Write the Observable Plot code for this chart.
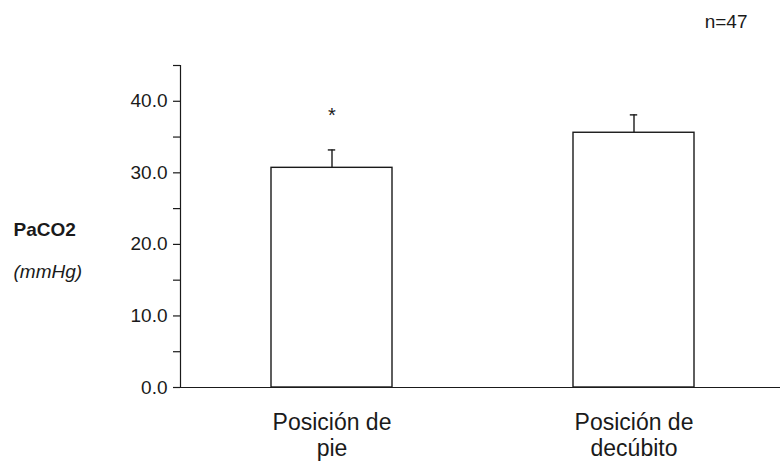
<!DOCTYPE html>
<html>
<head>
<meta charset="utf-8">
<script src="https://cdn.jsdelivr.net/npm/d3@7"></script>
<script src="https://cdn.jsdelivr.net/npm/@observablehq/plot@0.6"></script>
<style>
  html, body { margin: 0; padding: 0; background: #fff; }
  #chart svg { display: block; }
</style>
</head>
<body>
<div id="chart"></div>
<script>
// ---- data ----
const categories = ["Posición de\npie", "Posición de\ndecúbito"];
const means = [30.7, 35.6];
const errors = [2.5, 2.5];
const marks = ["*", ""];
const yTickValues = [0, 5, 10, 15, 20, 25, 30, 35, 40, 45];
const yTickLabels = ["0.0", "", "10.0", "", "20.0", "", "30.0", "", "40.0", ""];
const yTitle = "PaCO2";
const yUnit = "(mmHg)";
const sampleNote = "n=47";

const rows = categories.map((c, i) => ({cat: c, mean: means[i], err: errors[i], top: means[i] + errors[i], mark: marks[i]}));
const labelOf = new Map(yTickValues.map((v, i) => [v, yTickLabels[i]]));

const FONT = "'Liberation Sans', Arial, Helvetica, sans-serif";
const INK = "#1a1a1a";

const chart = Plot.plot({
  width: 780,
  height: 466,
  marginLeft: 180,
  marginRight: 0,
  marginTop: 65,
  marginBottom: 79,
  style: {fontFamily: FONT, color: INK, background: "#fff", overflow: "visible"},
  x: {domain: categories, range: [270.7, 694.7], paddingInner: 0.598, paddingOuter: 0, axis: null},
  y: {domain: [0, 45], axis: null},
  marks: [
    // y axis line
    Plot.frame({anchor: "left", stroke: INK, strokeWidth: 1.2}),
    Plot.axisY({
      ticks: yTickValues,
      tickFormat: d => labelOf.get(d),
      tickSize: 7,
      tickPadding: 6,
      fontSize: 19,
      stroke: INK,
      strokeWidth: 1.2,
      label: null
    }),
    // bars
    Plot.barY(rows, {x: "cat", y: "mean", fill: "white", stroke: INK, strokeWidth: 1.4}),
    // error bars
    Plot.ruleX(rows, {x: "cat", y1: "mean", y2: "top", stroke: INK, strokeWidth: 1.4}),
    Plot.tickY(rows, {x: "cat", y: "top", stroke: INK, strokeWidth: 1.4, insetLeft: 56.8, insetRight: 56.8}),
    // significance marker
    Plot.text(rows, {x: "cat", y: "top", text: "mark", dy: -34, fontSize: 20, fill: INK}),
    // x axis baseline
    Plot.ruleY([0], {stroke: INK, strokeWidth: 1.2}),
    // category labels
    Plot.text(rows, {x: "cat", text: "cat", frameAnchor: "bottom", lineAnchor: "top", dy: 24, fontSize: 23, lineHeight: 1.13, fill: INK}),
    // y title
    Plot.text([yTitle], {frameAnchor: "top-left", dx: -167, dy: 170, textAnchor: "start", lineAnchor: "bottom", fontSize: 19, fontWeight: "bold", fill: INK}),
    Plot.text([yUnit], {frameAnchor: "top-left", dx: -167, dy: 212, textAnchor: "start", lineAnchor: "bottom", fontSize: 19, fontStyle: "italic", fill: INK}),
    // sample size
    Plot.text([sampleNote], {frameAnchor: "top-right", dx: -33, dy: -38, textAnchor: "end", lineAnchor: "bottom", fontSize: 19, fill: INK})
  ]
});
document.getElementById("chart").appendChild(chart);
</script>
</body>
</html>
